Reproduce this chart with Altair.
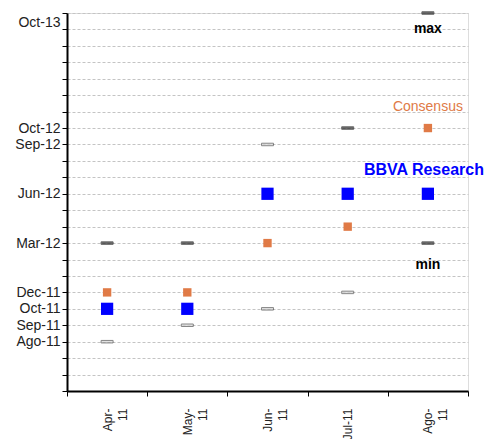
import altair as alt
import pandas as pd

months = ["Apr-11", "May-11", "Jun-11", "Jul-11", "Ago-11"]
# y values in axis-step units (each step = one gridline of the reference axis)
bbva = [5, 5, 12, 12, 12]
consensus = [6, 6, 9, 10, 16]
max_v = [9, 9, 15, 16, 23]
min_v = [3, 4, 5, 6, 9]

tick_values = [3, 4, 5, 6, 9, 12, 15, 16, 23]
tick_labels = ["Ago-11", "Sep-11", "Oct-11", "Dec-11", "Mar-12", "Jun-12", "Sep-12", "Oct-12", "Oct-13"]

ann_text = ["max", "Consensus", "BBVA Research", "min"]
ann_y = [22, 17.3, 13.45, 7.65]

FONT = "Liberation Sans"

df = pd.DataFrame({"m": months, "bbva": bbva, "cons": consensus, "max": max_v, "min": min_v})

expr = "''"
for v, l in zip(reversed(tick_values), reversed(tick_labels)):
    expr = f"datum.value == {v} ? '{l}' : ({expr})"

xlab = "datum.label == 'Jul-11' ? datum.label : [slice(datum.label, 0, 4), slice(datum.label, 4)]"

xaxis = alt.Axis(title=None, tickBand="extent", labelAngle=270, labelExpr=xlab,
                 labelFont=FONT, labelFontSize=12, labelLineHeight=15, labelColor="#222",
                 tickSize=5, tickColor="#000", domainColor="#000", domainWidth=2,
                 tickWidth=1, labelPadding=12, grid=False)
xscale = alt.Scale(paddingInner=0, paddingOuter=0)

yscale = alt.Scale(domain=[0, 23], nice=False, zero=False)
yaxis = alt.Axis(title=None, values=list(range(0, 24)), labelExpr=expr,
                 labelFont=FONT, labelFontSize=14, labelColor="#222",
                 labelOverlap=False, labelPadding=2,
                 labelOffset={"condition": {"test": "datum.value == 23", "value": 9}, "value": 0},
                 tickSize=5, tickColor="#000", domainColor="#000", domainWidth=2,
                 grid=True, gridDash=[3, 2], gridColor="#c4c4c4", gridWidth=1)


def X():
    return alt.X("m:N", sort=months, scale=xscale, axis=xaxis)


def Y(field):
    return alt.Y(field, scale=yscale, axis=yaxis)


base = alt.Chart(df)

SOLID = "#2a2a2a"
HOLLOW_FILL = "#d8d8d8"
HOLLOW_STROKE = "#555555"

max_layer = base.mark_tick(thickness=2.5, size=12, strokeWidth=1).encode(
    x=X(), y=Y("max:Q"),
    fill=alt.condition("datum.m == 'Jun-11'", alt.value(HOLLOW_FILL), alt.value(SOLID)),
    stroke=alt.condition("datum.m == 'Jun-11'", alt.value(HOLLOW_STROKE), alt.value(SOLID)))
min_layer = base.mark_tick(thickness=2.5, size=12, strokeWidth=1).encode(
    x=X(), y=Y("min:Q"),
    fill=alt.condition("datum.m == 'Ago-11'", alt.value(SOLID), alt.value(HOLLOW_FILL)),
    stroke=alt.condition("datum.m == 'Ago-11'", alt.value(SOLID), alt.value(HOLLOW_STROKE)))
cons_layer = base.mark_square(color="#E07A46", size=70, opacity=1).encode(x=X(), y=Y("cons:Q"))
bbva_layer = base.mark_square(color="#0000FF", size=150, opacity=1).encode(x=X(), y=Y("bbva:Q"))

ann = pd.DataFrame({"m": ["Ago-11"] * 4, "t": ann_text, "y": ann_y})
styles = {
    "max": dict(color="#000", fontSize=14, fontWeight="bold"),
    "Consensus": dict(color="#E07A46", fontSize=14, fontWeight="normal"),
    "BBVA Research": dict(color="#0000FF", fontSize=16, fontWeight="bold", dx=-4),
    "min": dict(color="#000", fontSize=14, fontWeight="bold"),
}
ann_layers = []
for t in ann_text:
    ann_layers.append(
        alt.Chart(ann[ann.t == t]).mark_text(font=FONT, align="center", baseline="middle", **styles[t]).encode(
            x=X(), y=Y("y:Q"), text="t:N"))

chart = alt.layer(max_layer, min_layer, cons_layer, bbva_layer, *ann_layers).properties(
    width=401, height=378,
    autosize=alt.AutoSizeParams(type="none"),
    padding={"left": 59, "top": 5, "right": 18, "bottom": 48},
).configure_view(stroke=None).configure(background="white")

chart.save("out.html", embed_options={"renderer": "svg", "actions": False})
